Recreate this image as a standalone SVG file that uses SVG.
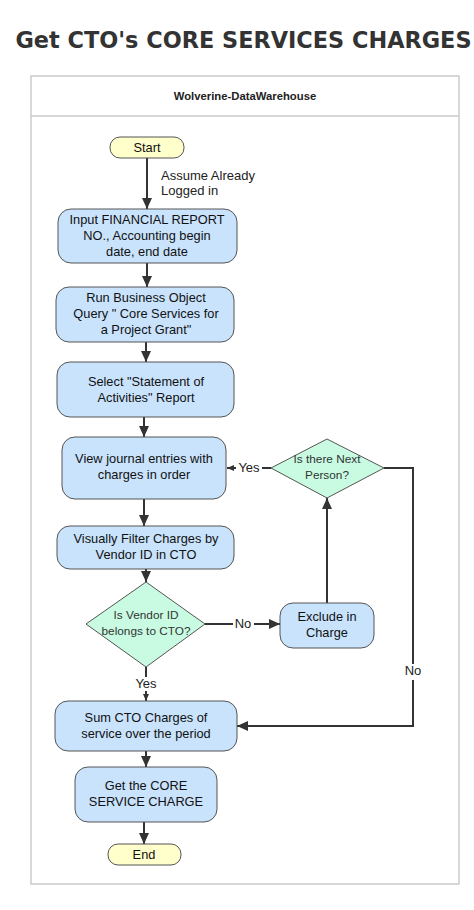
<svg xmlns="http://www.w3.org/2000/svg" width="474" height="910" viewBox="0 0 474 910">
<defs>
<marker id="ah" markerUnits="userSpaceOnUse" markerWidth="12" markerHeight="10" refX="11" refY="5" orient="auto"><path d="M0,0 L11,5 L0,10 z" fill="#333"/></marker>
<marker id="ahs" markerUnits="userSpaceOnUse" markerWidth="8" markerHeight="8" refX="7" refY="4" orient="auto"><path d="M0,1 L7,4 L0,7 z" fill="#333"/></marker>
<style>
.t{font-family:"Liberation Sans",Arial,sans-serif;font-size:12.8px;fill:#111;text-anchor:middle}
.d{font-family:"Liberation Sans",Arial,sans-serif;font-size:11.8px;fill:#333;text-anchor:middle}
.l{font-family:"Liberation Sans",Arial,sans-serif;font-size:13px;fill:#222}
.box{fill:#c9e3fc;stroke:#555;stroke-width:1}
.dia{fill:#c8fbe2;stroke:#555;stroke-width:1}
.term{fill:#ffffcc;stroke:#555;stroke-width:1}
.c{stroke:#333;stroke-width:2;fill:none}
</style>
</defs>
<rect width="474" height="910" fill="#fff"/>
<text x="243.5" y="48" style="font-family:'DejaVu Sans',sans-serif;font-weight:bold;font-size:22.4px;fill:#333;text-anchor:middle">Get CTO's CORE SERVICES CHARGES</text>
<g id="pool">
<rect x="31" y="76" width="428" height="808" fill="#fff" stroke="#ccc" stroke-width="1.5"/>
<line x1="31" y1="116" x2="459" y2="116" stroke="#ccc" stroke-width="1.5"/>
<text x="245" y="100" style="font-family:'Liberation Sans',Arial,sans-serif;font-weight:bold;font-size:11.3px;fill:#222;text-anchor:middle">Wolverine-DataWarehouse</text>
</g>
<g id="connectors">
<line class="c" x1="147" y1="158" x2="147" y2="209" marker-end="url(#ah)"/>
<text class="l" x="161" y="180">Assume Already</text>
<text class="l" x="161" y="195">Logged in</text>
<line class="c" x1="147" y1="263" x2="147" y2="287" marker-end="url(#ah)"/>
<line class="c" x1="146" y1="342" x2="146" y2="362" marker-end="url(#ah)"/>
<line class="c" x1="144" y1="417" x2="144" y2="437" marker-end="url(#ah)"/>
<line class="c" x1="144" y1="499" x2="144" y2="526" marker-end="url(#ah)"/>
<line class="c" x1="146" y1="569" x2="146" y2="582" marker-end="url(#ah)"/>
<line class="c" x1="146" y1="667" x2="146" y2="677"/>
<line class="c" x1="146" y1="691" x2="146" y2="701" marker-end="url(#ahs)"/>
<text class="l" x="146" y="688" style="text-anchor:middle">Yes</text>
<line class="c" x1="205" y1="624" x2="233" y2="624"/>
<line class="c" x1="254" y1="624" x2="280" y2="624" marker-end="url(#ah)"/>
<text class="l" x="243" y="628" style="text-anchor:middle">No</text>
<line class="c" x1="327" y1="603" x2="327" y2="498" marker-end="url(#ah)"/>
<line class="c" x1="271" y1="468" x2="262" y2="468"/>
<line class="c" x1="236" y1="468" x2="227" y2="468" marker-end="url(#ahs)"/>
<text class="l" x="249" y="472" style="text-anchor:middle">Yes</text>
<path class="c" d="M384,468 H413 V664"/>
<path class="c" d="M413,680 V726 H237" marker-end="url(#ah)"/>
<text class="l" x="413" y="675" style="text-anchor:middle">No</text>
<line class="c" x1="146" y1="751" x2="146" y2="767" marker-end="url(#ah)"/>
<line class="c" x1="144" y1="822" x2="144" y2="844" marker-end="url(#ah)"/>
</g>
<g id="start">
<rect class="term" x="110" y="137" width="74" height="21" rx="10"/>
<text class="t" x="147" y="152">Start</text>
</g>
<g id="input">
<rect class="box" x="58" y="209" width="179" height="54" rx="13"/>
<text class="t" x="147" y="224">Input FINANCIAL REPORT</text>
<text class="t" x="147" y="240">NO., Accounting begin</text>
<text class="t" x="147" y="256">date, end date</text>
</g>
<g id="run">
<rect class="box" x="56" y="287" width="178" height="55" rx="13"/>
<text class="t" x="146" y="302">Run Business Object</text>
<text class="t" x="146" y="318">Query " Core Services for</text>
<text class="t" x="146" y="334">a Project Grant"</text>
</g>
<g id="select">
<rect class="box" x="57" y="362" width="177" height="55" rx="13"/>
<text class="t" x="146" y="386">Select "Statement of</text>
<text class="t" x="146" y="402">Activities" Report</text>
</g>
<g id="view">
<rect class="box" x="62" y="437" width="164" height="62" rx="13"/>
<text class="t" x="144" y="463">View journal entries with</text>
<text class="t" x="144" y="479">charges in order</text>
</g>
<g id="filter">
<rect class="box" x="57" y="526" width="177" height="43" rx="13"/>
<text class="t" x="146" y="543">Visually Filter Charges by</text>
<text class="t" x="146" y="559">Vendor ID in CTO</text>
</g>
<g id="vendor">
<polygon class="dia" points="146,582 205,624 146,667 86,624"/>
<text class="d" x="146" y="619">Is Vendor ID</text>
<text class="d" x="146" y="635">belongs to CTO?</text>
</g>
<g id="exclude">
<rect class="box" x="280" y="603" width="94" height="45" rx="13"/>
<text class="t" x="327" y="621">Exclude in</text>
<text class="t" x="327" y="637">Charge</text>
</g>
<g id="next">
<polygon class="dia" points="327,439 384,468 327,498 271,468"/>
<text class="d" x="327" y="463">Is there Next</text>
<text class="d" x="327" y="479">Person?</text>
</g>
<g id="sum">
<rect class="box" x="55" y="701" width="182" height="50" rx="13"/>
<text class="t" x="146" y="722">Sum CTO Charges of</text>
<text class="t" x="146" y="738">service over the period</text>
</g>
<g id="get">
<rect class="box" x="75" y="767" width="142" height="55" rx="13"/>
<text class="t" x="146" y="790">Get the CORE</text>
<text class="t" x="146" y="806">SERVICE CHARGE</text>
</g>
<g id="end">
<rect class="term" x="108" y="844" width="73" height="21" rx="10"/>
<text class="t" x="144" y="859">End</text>
</g>
</svg>
